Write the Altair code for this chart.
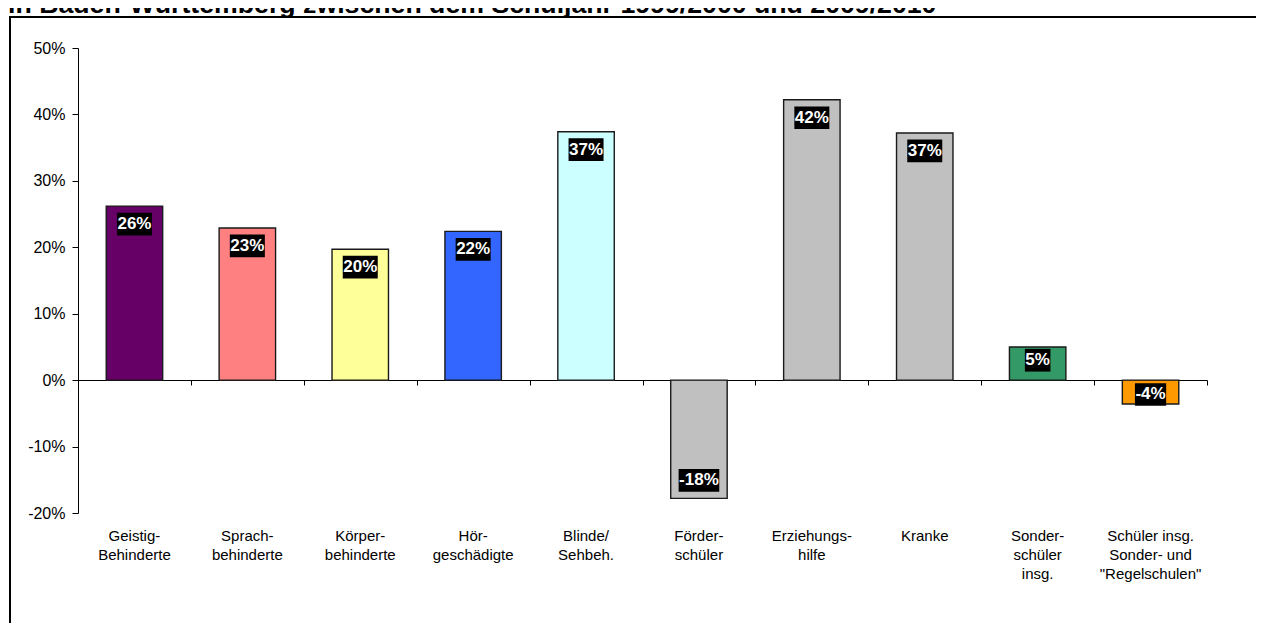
import altair as alt
import pandas as pd

# ---- data ----
categories = [
    "Geistig-|Behinderte",
    "Sprach-|behinderte",
    "Körper-|behinderte",
    "Hör-|geschädigte",
    "Blinde/|Sehbeh.",
    "Förder-|schüler",
    "Erziehungs-|hilfe",
    "Kranke",
    "Sonder-|schüler|insg.",
    "Schüler insg.|Sonder- und|\"Regelschulen\"",
]
values = [26.2, 22.9, 19.7, 22.4, 37.4, -17.8, 42.2, 37.2, 5.0, -3.6]
labels = ["26%", "23%", "20%", "22%", "37%", "-18%", "42%", "37%", "5%", "-4%"]
colors = ["#660066", "#FF8080", "#FFFF99", "#3366FF", "#CCFFFF",
          "#C0C0C0", "#C0C0C0", "#C0C0C0", "#339966", "#FF9900"]
y_ticks = [-20, -10, 0, 10, 20, 30, 40, 50]
title_text = "in Baden-Württemberg zwischen dem Schuljahr 1999/2000 und 2009/2010"

FONT = "Liberation Sans"
W, H = 1129, 465
Y_MIN, Y_MAX = -20, 50

df = pd.DataFrame({"cat": categories, "value": values, "label": labels, "color": colors})
frame_df = pd.DataFrame({"t": [title_text]})

y_scale = alt.Scale(domain=[Y_MIN, Y_MAX], nice=False, zero=False)
y_axis = alt.Axis(values=y_ticks, labelExpr="datum.value + '%'", title=None, grid=False,
                  domainColor="black", domainWidth=1, tickColor="black", tickSize=6,
                  labelFontSize=16, labelPadding=7, labelColor="black", labelFont=FONT)

x_scale = alt.Scale(paddingInner=0, paddingOuter=0)
label_axis = alt.Axis(title=None, domain=False, ticks=False, grid=False, labelAngle=0,
                      labelExpr="split(datum.label, '|')", labelFontSize=15,
                      labelLineHeight=19, labelPadding=15, labelColor="black",
                      labelFont=FONT, labelOverlap=False, orient="bottom")
# zero-line axis (domain + boundary ticks) moved up to the 0% level
zero_offset = -round(H * (0 - Y_MIN) / (Y_MAX - Y_MIN))
zero_axis = alt.Axis(title=None, labels=False, domain=True, ticks=True, grid=False,
                     tickBand="extent", tickSize=5, domainColor="black", tickColor="black",
                     orient="bottom", offset=zero_offset)

base = alt.Chart(df)

bars = base.mark_bar(width={"band": 0.5}, stroke="#1a1a1a", strokeWidth=1.4).encode(
    x=alt.X("cat:N", sort=categories, scale=x_scale, axis=label_axis),
    y=alt.Y("value:Q", scale=y_scale, axis=y_axis),
    color=alt.Color("color:N", scale=None, legend=None),
)

lab = base.transform_calculate(
    neg="datum.value < 0 ? 1 : 0",
    lpos="abs(datum.value) >= 10 ? datum.value - (datum.value > 0 ? 2.7 : -2.7) : datum.value * 0.6",
).transform_calculate(
    ly1="datum.lpos - 1.71",
    ly2="datum.lpos + 1.71",
    bw="9.45 * (length(datum.label) - 1 - datum.neg) + 15.1 + 5.66 * datum.neg + 1",
)

boxes = lab.mark_bar(color="black").encode(
    x=alt.X("cat:N", sort=categories, axis=zero_axis),
    y=alt.Y("ly1:Q", scale=y_scale, axis=y_axis),
    y2="ly2:Q",
    size=alt.Size("bw:Q", scale=None, legend=None),
)

texts = lab.mark_text(color="white", fontWeight="bold", fontSize=17, font=FONT,
                      baseline="middle", align="center").encode(
    x=alt.X("cat:N", sort=categories, axis=None),
    y=alt.Y("lpos:Q", scale=y_scale, axis=y_axis),
    text="label:N",
)

# chart-area border (outer frame of the original chart) and its (cut-off) title line
frame_left = alt.Chart(frame_df).mark_rule(color="black", strokeWidth=2).encode(
    x=alt.value(-68), y=alt.value(-31), y2=alt.value(H + 110))
frame_top = alt.Chart(frame_df).mark_rule(color="black", strokeWidth=2).encode(
    x=alt.value(-69), x2=alt.value(W + 49), y=alt.value(-31))
title_mark = alt.Chart(frame_df).mark_text(
    align="left", baseline="alphabetic", fontSize=26.7, fontWeight="bold",
    font=FONT, color="black").encode(
    x=alt.value(-70), y=alt.value(-35), text="t:N")

chart = alt.layer(frame_left, frame_top, title_mark, bars, boxes, texts).resolve_axis(
    x="independent"
).properties(
    width=W,
    height=H,
    autosize=alt.AutoSizeParams(type="none"),
    padding={"left": 70, "top": 40, "right": 49, "bottom": 110},
).configure(
    font=FONT,
    view=alt.ViewConfig(stroke=None, strokeWidth=0),
)

chart.save("out.html", embed_options={"renderer": "svg", "actions": False})
